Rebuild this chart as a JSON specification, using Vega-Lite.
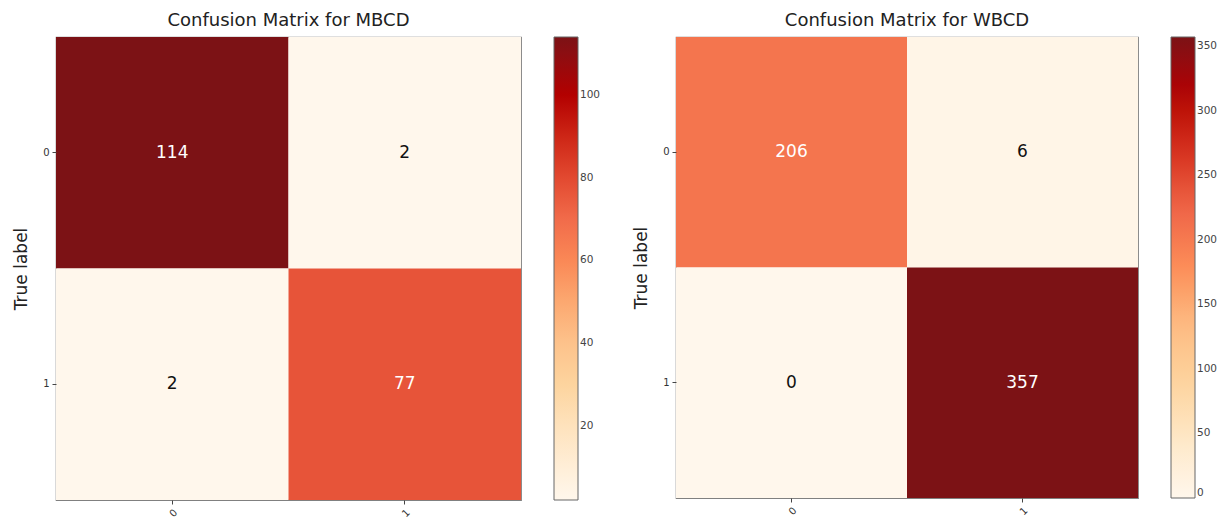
{
  "$schema": "https://vega.github.io/schema/vega-lite/v6.json",
  "padding": {"left": 12, "top": 11, "right": 5, "bottom": 5},
  "spacing": 30,
  "resolve": {"scale": {"color": "independent"}, "legend": {"color": "independent"}},
  "config": {
    "font": "DejaVu Sans",
    "view": {"stroke": "#808080", "strokeWidth": 1.2},
    "axis": {"labelFontSize": 10, "labelColor": "#333333", "tickColor": "#444444", "tickSize": 4, "domain": false, "grid": false, "labelPadding": 3, "titleFontWeight": "normal", "titleFontSize": 17, "titleColor": "#222222", "titleFont": "DejaVu Sans", "labelFont": "DejaVu Sans"},
    "legend": {"gradientLength": 463, "gradientThickness": 24, "offset": 33, "labelFontSize": 10.5, "labelColor": "#444444", "labelOffset": 7, "labelOverlap": false, "gradientStrokeColor": "#666666", "gradientStrokeWidth": 1, "labelBaseline": "middle", "direction": "vertical", "orient": "right", "titlePadding": 0},
    "title": {"fontSize": 18, "fontWeight": "normal", "color": "#222222", "offset": 7, "font": "DejaVu Sans"}
  },
  "hconcat": [
    {
      "title": "Confusion Matrix for MBCD",
      "width": 465,
      "height": 463,
      "data": {"values": [
        {"actual": "0", "predicted": "0", "count": 114},
        {"actual": "0", "predicted": "1", "count": 2},
        {"actual": "1", "predicted": "0", "count": 2},
        {"actual": "1", "predicted": "1", "count": 77}
      ]},
      "encoding": {
        "x": {"field": "predicted", "type": "ordinal", "scale": {"paddingInner": 0, "paddingOuter": 0}, "axis": {"title": null, "labelAngle": -45}},
        "y": {"field": "actual", "type": "ordinal", "scale": {"paddingInner": 0, "paddingOuter": 0}, "axis": {"title": "True label", "labelAngle": 0, "titlePadding": 12}}
      },
      "layer": [
        {"mark": {"type": "rect"}, "encoding": {"color": {"field": "count", "type": "quantitative", "scale": {"domain": [2, 16, 30, 44, 58, 72, 86, 100, 114], "range": ["#fff7ec", "#fee8c8", "#fdd49e", "#fdbb84", "#fc8d59", "#ef6548", "#d7301f", "#b30000", "#7c1215"]}, "legend": {"title": null, "values": [20, 40, 60, 80, 100]}}}},
        {"mark": {"type": "text", "fontSize": 17}, "encoding": {"text": {"field": "count", "type": "quantitative"}, "color": {"condition": {"test": "datum.count > 58", "value": "#ffffff"}, "value": "#111111"}}}
      ]
    },
    {
      "title": "Confusion Matrix for WBCD",
      "width": 462,
      "height": 461,
      "data": {"values": [
        {"actual": "0", "predicted": "0", "count": 206},
        {"actual": "0", "predicted": "1", "count": 6},
        {"actual": "1", "predicted": "0", "count": 0},
        {"actual": "1", "predicted": "1", "count": 357}
      ]},
      "encoding": {
        "x": {"field": "predicted", "type": "ordinal", "scale": {"paddingInner": 0, "paddingOuter": 0}, "axis": {"title": null, "labelAngle": -45}},
        "y": {"field": "actual", "type": "ordinal", "scale": {"paddingInner": 0, "paddingOuter": 0}, "axis": {"title": "True label", "labelAngle": 0, "titlePadding": 12}}
      },
      "layer": [
        {"mark": {"type": "rect"}, "encoding": {"color": {"field": "count", "type": "quantitative", "scale": {"domain": [0, 44.625, 89.25, 133.875, 178.5, 223.125, 267.75, 312.375, 357], "range": ["#fff7ec", "#fee8c8", "#fdd49e", "#fdbb84", "#fc8d59", "#ef6548", "#d7301f", "#b30000", "#7c1215"]}, "legend": {"title": null, "values": [0, 50, 100, 150, 200, 250, 300, 350], "gradientLength": 461}}}},
        {"mark": {"type": "text", "fontSize": 17}, "encoding": {"text": {"field": "count", "type": "quantitative"}, "color": {"condition": {"test": "datum.count > 178.5", "value": "#ffffff"}, "value": "#111111"}}}
      ]
    }
  ]
}
